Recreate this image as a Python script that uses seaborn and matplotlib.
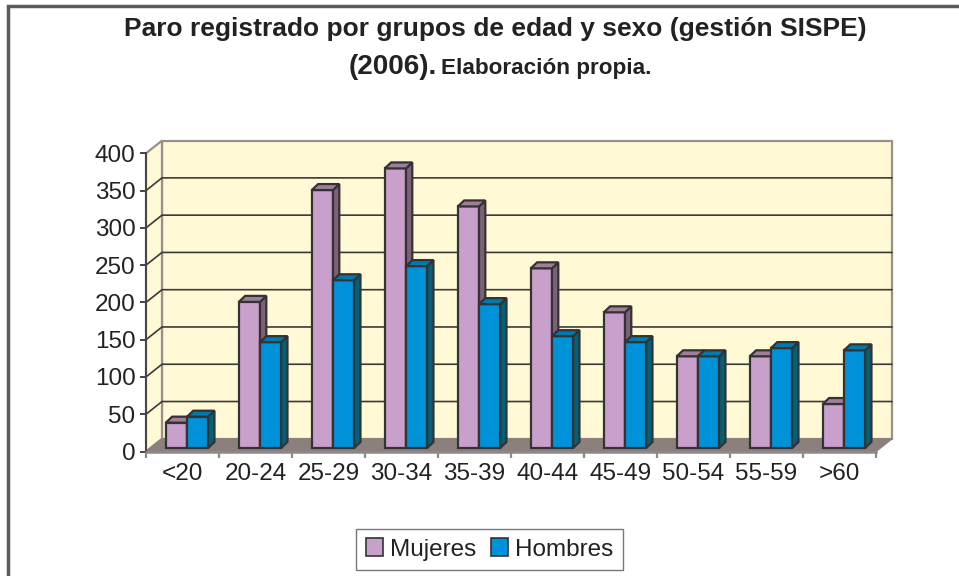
import numpy as np
import matplotlib
matplotlib.use('Agg')
import matplotlib.pyplot as plt
from matplotlib.patches import Polygon, Patch, Rectangle
import pandas as pd
import seaborn as sns

edades = ['<20', '20-24', '25-29', '30-34', '35-39', '40-44', '45-49', '50-54', '55-59', '>60']
mujeres = [34, 196, 346, 375, 324, 241, 182, 123, 123, 59]
hombres = [42, 142, 225, 244, 193, 150, 142, 123, 134, 131]
series = ['Mujeres', 'Hombres']
yticks = [0, 50, 100, 150, 200, 250, 300, 350, 400]

df = pd.DataFrame({
    'edad': edades * 2,
    'sexo': ['Mujeres'] * len(edades) + ['Hombres'] * len(edades),
    'paro': mujeres + hombres,
})

sns.set_theme(style='white')
plt.rcParams['font.family'] = ['Liberation Sans', 'DejaVu Sans']

W, H = 959, 576
fig = plt.figure(figsize=(W / 100, H / 100), dpi=100)

# front plane of the 3d box, in pixels
ax_l, ax_r, ax_top, ax_bot = 146, 876, 153.3, 451.5
ax = fig.add_axes([ax_l / W, 1 - ax_bot / H, (ax_r - ax_l) / W, (ax_bot - ax_top) / H])

front = {'Mujeres': '#C9A0CB', 'Hombres': '#0092D8'}
side = {'Mujeres': '#7E6176', 'Hombres': '#00617A'}
top = {'Mujeres': '#A07E9C', 'Hombres': '#0079AC'}

sns.barplot(data=df, x='edad', y='paro', hue='sexo', hue_order=series,
            palette=front, saturation=1, width=0.58, edgecolor='#333333', linewidth=1.6,
            legend=False, ax=ax, zorder=3)

ax.set_xlim(-0.5, 9.5)
ax.set_ylim(0, 400)
ax.set_xlabel('')
ax.set_ylabel('')
ax.patch.set_visible(False)

# pixel -> data conversions
ux = (ax_r - ax_l) / 10.0
uy = (ax_bot - ax_top) / 400.0
DX, DY = 16 / ux, 12.7 / uy        # wall depth
BX, BY = 4.5 / ux, 3.5 / uy        # bar position inside the box
dx, dy = 6.3 / ux, 6.0 / uy        # bar depth

wall = '#FFF9D6'
wall_edge = '#9A8F8A'
x0, x1 = -0.5, 9.5

# back wall, side wall, floor
ax.add_patch(Polygon([(x0 + DX, DY), (x1 + DX, DY), (x1 + DX, 400 + DY), (x0 + DX, 400 + DY)],
                     closed=True, fc=wall, ec=wall_edge, lw=1.6, clip_on=False, zorder=0.5))
ax.add_patch(Polygon([(x0, 0), (x0 + DX, DY), (x0 + DX, 400 + DY), (x0, 400)],
                     closed=True, fc=wall, ec=wall_edge, lw=1.6, clip_on=False, zorder=0.5))
for v in yticks[1:-1]:
    ax.plot([x0, x0 + DX, x1 + DX], [v, v + DY, v + DY], color='#3A3A3A', lw=1.2,
            clip_on=False, zorder=1)
ax.add_patch(Polygon([(x0, 0), (x1, 0), (x1 + DX, DY), (x0 + DX, DY)],
                     closed=True, fc='#8C807E', ec='#8C807E', lw=1, clip_on=False, zorder=1.2))

# shift bars into the box and add their side / top faces
for k, (name, cont) in enumerate(zip(series, ax.containers)):
    for bar in cont:
        bar.set_x(bar.get_x() + BX)
        bar.set_y(BY)
        bar.set_zorder(3 + k)
        xa = bar.get_x()
        xb = xa + bar.get_width()
        yt = BY + bar.get_height()
        ax.add_patch(Polygon([(xb, BY), (xb + dx, BY + dy), (xb + dx, yt + dy), (xb, yt)],
                             closed=True, fc=side[name], ec='#333333', lw=1.6,
                             clip_on=False, zorder=3 + k))
        ax.add_patch(Polygon([(xa, yt), (xb, yt), (xb + dx, yt + dy), (xa + dx, yt + dy)],
                             closed=True, fc=top[name], ec='#333333', lw=1.6,
                             clip_on=False, zorder=3 + k))

# axes styling
for s in ['top', 'right']:
    ax.spines[s].set_visible(False)
ax.spines['left'].set_color('#444444')
ax.spines['left'].set_linewidth(1.4)
ax.spines['bottom'].set_color('#8A8A8A')
ax.spines['bottom'].set_linewidth(1.8)
ax.set_yticks(yticks)
ax.set_yticklabels([str(v) for v in yticks])
ax.tick_params(axis='y', left=True, direction='out', length=4.5, width=1.4,
               color='#444444', labelsize=17.5, labelcolor='#222222', pad=3)
ax.set_xticks(range(len(edades)))
ax.set_xticklabels(edades)
ax.set_xticks(np.arange(-0.5, 10, 1), minor=True)
ax.tick_params(axis='x', which='major', bottom=False, length=0, labelsize=17.5,
               labelcolor='#222222', pad=8)
ax.tick_params(axis='x', which='minor', bottom=True, direction='out', length=4.5,
               width=1.6, color='#8A8A8A')

# title
fig.text(495.5 / W, 1 - 29 / H, 'Paro registrado por grupos de edad y sexo (gestión SISPE)',
         ha='center', va='center', fontsize=19, fontweight='bold', color='#222222')
fig.text(437 / W, 1 - 74 / H, '(2006).', ha='right', va='baseline',
         fontsize=20, fontweight='bold', color='#222222')
fig.text(441 / W, 1 - 74 / H, 'Elaboración propia.', ha='left', va='baseline',
         fontsize=16.2, fontweight='bold', color='#222222')

# legend
handles = [Patch(fc=front[n], ec='#333333', lw=1.2, label=n) for n in series]
leg = fig.legend(handles=handles, loc='center', ncol=2,
                 bbox_to_anchor=(489.5 / W, 1 - 549.5 / H), fontsize=17.5,
                 frameon=True, fancybox=False, edgecolor='#555555',
                 handlelength=0.7, handleheight=0.7, handletextpad=0.3,
                 columnspacing=0.6, borderpad=0.4)
leg.get_frame().set_linewidth(1.0)
for t in leg.get_texts():
    t.set_color('#222222')

# outer frame of the chart object
fig.patches.append(Rectangle((7.5 / W, -0.05), 1.2, 1.05 - 5.5 / H, transform=fig.transFigure,
                             fill=False, ec='#5A5A5A', lw=2.5))

fig.savefig('out.png', dpi=100)
